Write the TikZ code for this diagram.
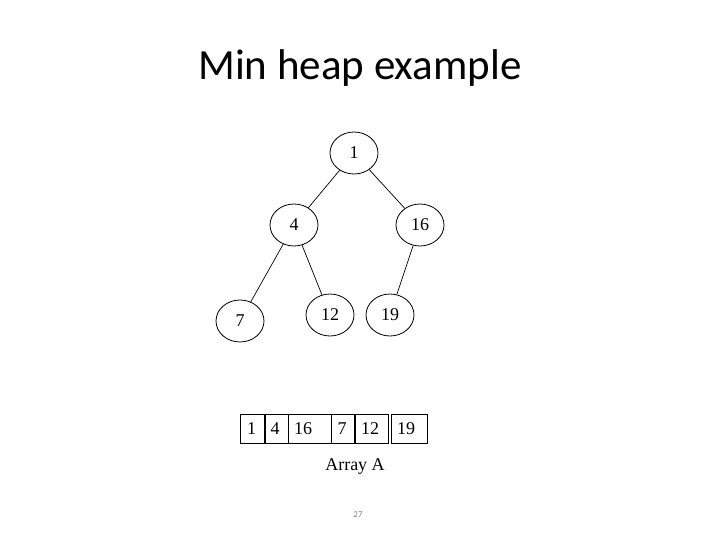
\documentclass[tikz,border=0pt]{standalone}
\usepackage{fontspec}
\setmainfont{Liberation Serif}
\newfontfamily\titlefont{Carlito}
\usetikzlibrary{shapes.geometric}
\begin{document}
\begin{tikzpicture}[x=1pt,y=-1pt,
  heapnode/.style={draw,ellipse,minimum width=48pt,minimum height=42pt,inner sep=0pt,line width=0.8pt,font=\fontsize{18}{18}\selectfont},
  edge/.style={line width=0.7pt},
  cell/.style={draw,rectangle,line width=0.9pt,minimum height=29pt,inner sep=0pt},
  celltext/.style={inner sep=0pt,font=\fontsize{18}{18}\selectfont}]
\useasboundingbox (0,0) rectangle (720,540);
\node[font=\titlefont\fontsize{43}{43}\selectfont] (title) at (360,68) {Min heap example};
\node[heapnode] (n1) at (354,153) {1};
\node[heapnode] (n4) at (294,225) {4};
\node[heapnode] (n16) at (420,225) {16};
\node[heapnode] (n7) at (240,321) {7};
\node[heapnode] (n12) at (330,315) {12};
\node[heapnode] (n19) at (390,315) {19};
\draw[edge] (n1) -- (n4);
\draw[edge] (n1) -- (n16);
\draw[edge] (n4) -- (n7);
\draw[edge] (n4) -- (n12);
\draw[edge] (n16) -- (n19);
\node[cell,minimum width=25.5pt] (c1) at (252.75,428.5) {};
\node[cell,minimum width=23.5pt] (c2) at (276.25,428.5) {};
\node[cell,minimum width=43pt] (c3) at (309.5,428.5) {};
\node[cell,minimum width=24.5pt] (c4) at (343.25,428.5) {};
\node[cell,minimum width=33.5pt] (c5) at (371.25,428.5) {};
\node[cell,minimum width=36pt] (c6) at (409,428.5) {};
\node[celltext] (t1) at (251.5,429) {1};
\node[celltext] (t2) at (275,429) {4};
\node[celltext] (t3) at (303,429) {16};
\node[celltext] (t4) at (342,429) {7};
\node[celltext] (t5) at (370,429) {12};
\node[celltext] (t6) at (406,429) {19};
\node[font=\fontsize{18}{18}\selectfont] (arr) at (355,466) {Array A};
\node[font=\titlefont\fontsize{9}{9}\selectfont,text=gray] (pg) at (358,515) {27};
\end{tikzpicture}
\end{document}
